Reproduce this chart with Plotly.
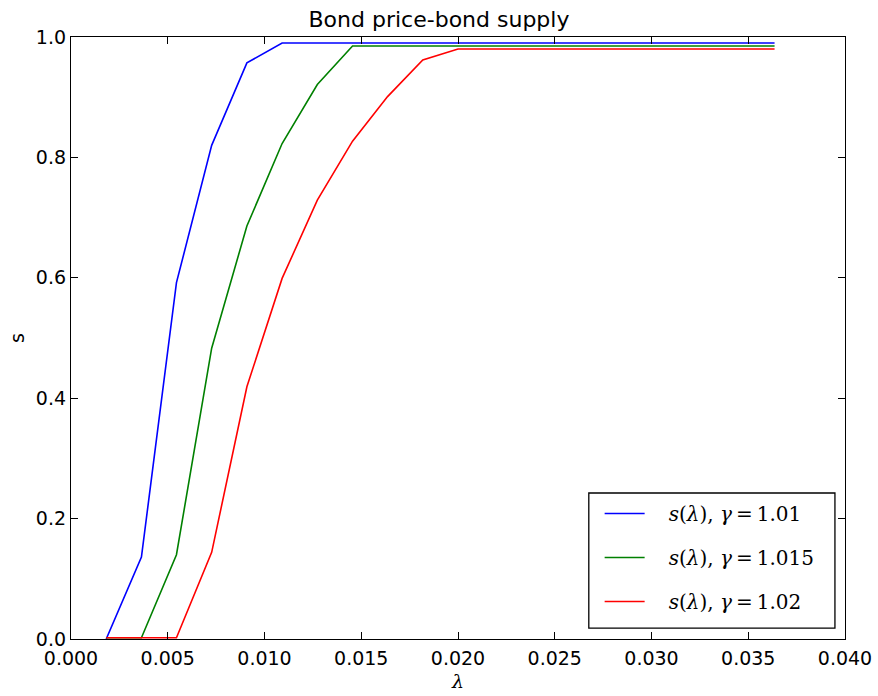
import plotly.graph_objects as go

lam = [0.00182, 0.00364, 0.00545, 0.00727, 0.00909, 0.01091, 0.01273, 0.01455,
       0.01636, 0.01818, 0.02000, 0.02182, 0.02364, 0.02545, 0.02727, 0.02909,
       0.03091, 0.03273, 0.03455, 0.03636]
s_101 = [0.0, 0.136, 0.592, 0.820, 0.957, 0.990, 0.990, 0.990, 0.990, 0.990,
         0.990, 0.990, 0.990, 0.990, 0.990, 0.990, 0.990, 0.990, 0.990, 0.990]
s_1015 = [0.002, 0.002, 0.140, 0.483, 0.686, 0.823, 0.921, 0.985, 0.985, 0.985,
          0.985, 0.985, 0.985, 0.985, 0.985, 0.985, 0.985, 0.985, 0.985, 0.985]
s_102 = [0.002, 0.002, 0.002, 0.144, 0.419, 0.599, 0.729, 0.827, 0.901, 0.962,
         0.980, 0.980, 0.980, 0.980, 0.980, 0.980, 0.980, 0.980, 0.980, 0.980]
names = ["\u00a0\u00a0\u00a0<i>s</i>(<i>λ</i>), <i>γ</i>\u2009=\u20091.01",
         "\u00a0\u00a0\u00a0<i>s</i>(<i>λ</i>), <i>γ</i>\u2009=\u20091.015",
         "\u00a0\u00a0\u00a0<i>s</i>(<i>λ</i>), <i>γ</i>\u2009=\u20091.02"]
colors = ["#0000ff", "#008000", "#ff0000"]
x_ticks = [0.000, 0.005, 0.010, 0.015, 0.020, 0.025, 0.030, 0.035, 0.040]
y_ticks = [0.0, 0.2, 0.4, 0.6, 0.8, 1.0]

fig = go.Figure()
for i, (ys, nm, c) in enumerate(zip([s_101, s_1015, s_102], names, colors)):
    fig.add_trace(go.Scatter(x=lam, y=ys, mode="lines", name=nm,
                             legendgroup=f"g{i}",
                             line=dict(color=c, width=1.6)))

axis_common = dict(showline=True, linecolor="black", linewidth=1.3, mirror="ticks",
                   ticks="inside", ticklen=7, tickcolor="black", showgrid=False,
                   zeroline=False, automargin=False,
                   tickfont=dict(family="DejaVu Sans", size=19, color="black"))

fig.update_layout(
    width=878, height=696,
    margin=dict(l=71, r=33, t=37, b=57, autoexpand=False),
    paper_bgcolor="white", plot_bgcolor="white",
    title=dict(text="Bond price-bond supply", x=0.5, xanchor="center",
               y=0.972, yanchor="middle", automargin=False,
               font=dict(family="DejaVu Sans", size=22, color="black")),
    xaxis=dict(range=[0, 0.04], tickvals=x_ticks,
               ticktext=[f"{v:.3f}" for v in x_ticks],
               ticklabelstandoff=2,
               title=dict(text="<i>λ</i>", standoff=6,
                          font=dict(family="DejaVu Serif", size=19, color="black")),
               **axis_common),
    yaxis=dict(range=[0, 1], tickvals=y_ticks,
               ticktext=[f"{v:.1f}" for v in y_ticks],
               title=dict(text="s", standoff=6,
                          font=dict(family="DejaVu Sans", size=19, color="black")),
               **axis_common),
    shapes=[dict(type="rect", xref="paper", yref="paper",
                 x0=0.669, x1=0.987, y0=0.018, y1=0.2425,
                 fillcolor="white", line=dict(color="black", width=1.3),
                 layer="above")],
    legend=dict(x=0.683, y=0.2409, xanchor="left", yanchor="top",
                borderwidth=0, bgcolor="rgba(0,0,0,0)",
                tracegroupgap=15,
                font=dict(family="DejaVu Serif", size=20, color="black"),
                itemwidth=40),
    showlegend=True,
)

fig.write_html("out.html")
